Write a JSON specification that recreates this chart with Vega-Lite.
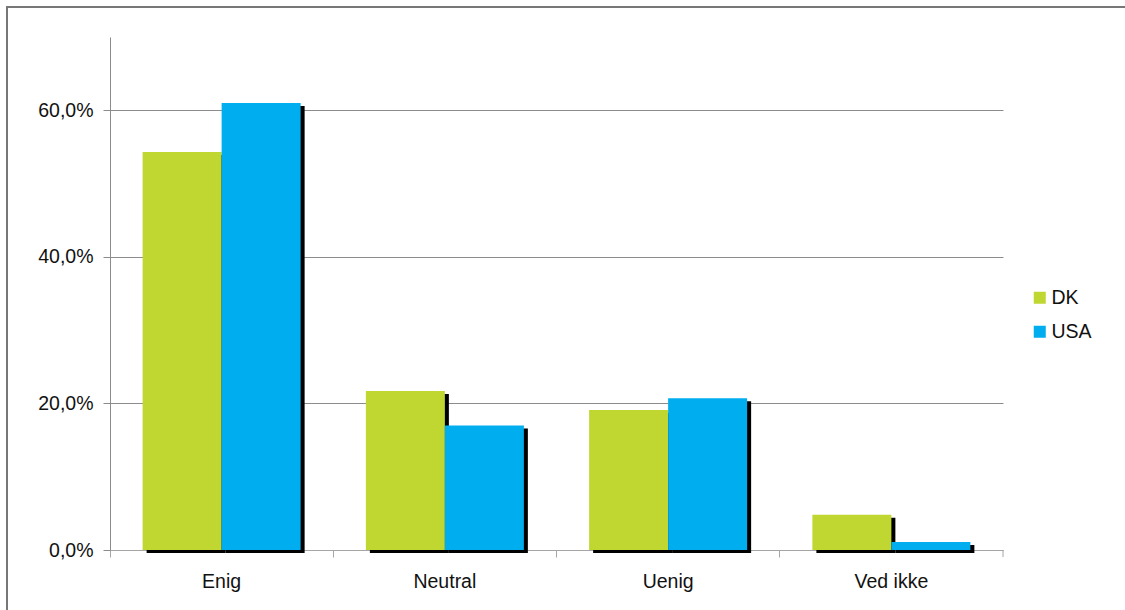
{
  "$schema": "https://vega.github.io/schema/vega-lite/v6.json",
  "width": 1125,
  "height": 610,
  "autosize": {"type": "none"},
  "padding": {"left": 7, "top": 7, "right": 0, "bottom": 0},
  "background": "white",
  "config": {
    "view": {"stroke": "#777777", "strokeWidth": 2},
    "font": "Liberation Sans",
    "axis": {
      "labelFont": "Liberation Sans",
      "labelFontSize": 19.5,
      "labelColor": "#111111",
      "title": null
    }
  },
  "data": {
    "values": [
      {"svar": "Enig", "land": "DK", "andel": 0.543},
      {"svar": "Enig", "land": "USA", "andel": 0.610},
      {"svar": "Neutral", "land": "DK", "andel": 0.217},
      {"svar": "Neutral", "land": "USA", "andel": 0.170},
      {"svar": "Uenig", "land": "DK", "andel": 0.191},
      {"svar": "Uenig", "land": "USA", "andel": 0.207},
      {"svar": "Ved ikke", "land": "DK", "andel": 0.048},
      {"svar": "Ved ikke", "land": "USA", "andel": 0.011}
    ]
  },
  "resolve": {"scale": {"xOffset": "independent"}},
  "layer": [
    {
      "mark": {"type": "bar", "color": "#000000", "yOffset": 3, "y2Offset": -3},
      "encoding": {
        "x": {
          "field": "svar", "type": "nominal", "sort": null,
          "scale": {"domain": ["Enig", "Neutral", "Uenig", "Ved ikke"], "range": [103, 996], "paddingInner": 0, "paddingOuter": 0},
          "axis": {
            "offset": -67,
            "bandPosition": 0,
            "labelPadding": 15,
            "labelAngle": 0,
            "domainColor": "#a6a6a6",
            "tickColor": "#a6a6a6",
            "tickSize": 7,
            "grid": false
          }
        },
        "xOffset": {"field": "land", "type": "nominal", "scale": {"domain": ["DK", "USA"], "range": [4, 227.25], "paddingInner": 0, "paddingOuter": 0.413}},
        "y": {
          "field": "andel", "type": "quantitative",
          "scale": {"domain": [0, 0.7], "range": [543, 30], "nice": false},
          "axis": {
            "offset": -103,
            "values": [0, 0.2, 0.4, 0.6],
            "labelExpr": "replace(format(datum.value, '.1%'), '.', ',')",
            "labelPadding": 10,
            "domainColor": "#8c8c8c",
            "tickColor": "#8c8c8c",
            "tickSize": 7,
            "grid": true,
            "gridColor": "#8c8c8c",
            "gridWidth": 1
          }
        }
      }
    },
    {
      "mark": {"type": "bar"},
      "encoding": {
        "x": {"field": "svar", "type": "nominal", "sort": null},
        "xOffset": {"field": "land", "type": "nominal", "scale": {"domain": ["DK", "USA"], "paddingInner": 0, "paddingOuter": 0.413}},
        "y": {"field": "andel", "type": "quantitative"},
        "color": {
          "field": "land", "type": "nominal",
          "scale": {"domain": ["DK", "USA"], "range": ["#bfd730", "#00adef"]},
          "legend": {
            "title": null,
            "orient": "none",
            "legendX": 1023,
            "legendY": 281,
            "padding": 0,
            "symbolType": "square",
            "symbolSize": 144,
            "symbolStrokeWidth": 0,
            "labelFont": "Liberation Sans",
            "labelFontSize": 19.5,
            "labelColor": "#111111",
            "labelOffset": 2,
            "rowPadding": 13
          }
        }
      }
    },
    {
      "data": {"values": [{"svar": "Ved ikke", "andel": 0}]},
      "mark": {"type": "rule", "color": "#a6a6a6", "y2Offset": 7},
      "encoding": {
        "x": {"field": "svar", "type": "nominal", "bandPosition": 1},
        "y": {"field": "andel", "type": "quantitative"},
        "y2": {"field": "andel"}
      }
    }
  ]
}
